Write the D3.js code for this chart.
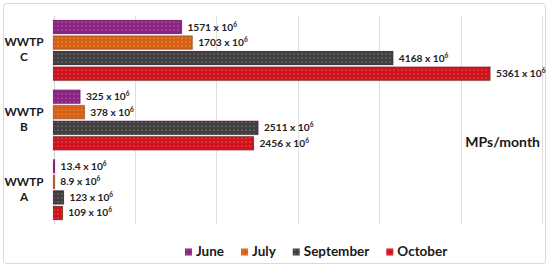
<!DOCTYPE html>
<html>
<head>
<meta charset="utf-8">
<script src="https://cdn.jsdelivr.net/npm/d3@7"></script>
<style>
  body { margin: 0; background: #fff; }
  svg { display: block; font-family: Lato, 'Open Sans', sans-serif; font-weight: bold; }
</style>
</head>
<body>
<div id="graph"></div>
<script>
var sites = ['WWTP C', 'WWTP B', 'WWTP A']
var months = ['June', 'July', 'September', 'October']
var colors = ['#8c2282', '#d9600f', '#3f3f3f', '#d2121b']
var edgeColors = ['#6e1866', '#8f5a1c', '#2a2a2a', '#6a2a10']

var june = [1571, 325, 13.4]
var july = [1703, 378, 8.9]
var september = [4168, 2511, 123]
var october = [5361, 2456, 109]
var labelJune = ['1571', '325', '13.4']
var labelJuly = ['1703', '378', '8.9']
var labelSeptember = ['4168', '2511', '123']
var labelOctober = ['5361', '2456', '109']
var xTicks = [0, 1000, 2000, 3000, 4000, 5000, 6000]
var unitLabel = 'MPs/month'

var series = [june, july, september, october]
var labels = [labelJune, labelJuly, labelSeptember, labelOctober]

var data = []
sites.forEach(function(site, i){
  months.forEach(function(m, j){
    data.push({site: site, month: m, j: j, value: series[j][i], label: labels[j][i]})
  })
})

var width = 550, height = 270
var svg = d3.select('#graph').append('svg').attr('width', width).attr('height', height)

var defs = svg.append('defs')
colors.forEach(function(c, j){
  var p = defs.append('pattern')
    .attr('id', 'dots' + j)
    .attr('patternUnits', 'userSpaceOnUse')
    .attr('width', 4).attr('height', 4)
  p.append('rect').attr('width', 4).attr('height', 4).attr('fill', c)
  p.append('circle').attr('cx', 2).attr('cy', 2).attr('r', 0.6).attr('fill', '#fff').attr('opacity', 0.6)
})

// outer frame
svg.append('rect')
  .attr('x', 3.5).attr('y', 3.5).attr('width', 542).attr('height', 260)
  .attr('rx', 3)
  .attr('fill', 'none').attr('stroke', '#d9d9d9')

var x = d3.scaleLinear().domain([0, 6000]).range([53.5, 542])
var y = d3.scaleBand().domain(sites).range([15.5, 224.5])
var yInner = d3.scaleBand().domain(d3.range(months.length)).range([0, y.bandwidth()])
  .paddingInner(0.16).paddingOuter(0.32)

// gridlines
svg.append('g').selectAll('line').data(xTicks).join('line')
  .attr('x1', d => Math.round(x(d)) + 0.5).attr('x2', d => Math.round(x(d)) + 0.5)
  .attr('y1', y.range()[0]).attr('y2', y.range()[1])
  .attr('stroke', d => d === 0 ? '#cfcfcf' : '#dedede')

// bars
var barG = svg.append('g')
barG.selectAll('rect.glow').data(data).join('rect')
  .attr('class', 'glow')
  .attr('x', x(0) - 1)
  .attr('y', d => y(d.site) + yInner(d.j) - 1)
  .attr('width', d => Math.max(x(d.value) - x(0), 1) + 2)
  .attr('height', yInner.bandwidth() + 2)
  .attr('fill', '#f6c6ec')
  .attr('opacity', 0.7)

barG.selectAll('rect.bar').data(data).join('rect')
  .attr('class', 'bar')
  .attr('x', x(0))
  .attr('y', d => y(d.site) + yInner(d.j))
  .attr('width', d => Math.max(x(d.value) - x(0), 1))
  .attr('height', yInner.bandwidth())
  .attr('fill', d => 'url(#dots' + d.j + ')')
  .attr('stroke', d => edgeColors[d.j])
  .attr('stroke-width', 0.8)

// value labels
var vl = svg.append('g').selectAll('text').data(data).join('text')
  .attr('x', d => x(d.value) + 6)
  .attr('y', d => y(d.site) + yInner(d.j) + yInner.bandwidth() / 2 + 3.5)
  .attr('font-size', 10.2)
  .attr('fill', '#222')
vl.append('tspan').text(d => d.label + ' x 10')
vl.append('tspan').text('6').attr('font-size', 6.5).attr('dy', -4)

// category labels
var cat = svg.append('g').selectAll('text').data(sites).join('text')
  .attr('text-anchor', 'middle')
  .attr('font-size', 11.8)
  .attr('fill', '#1a1a1a')
cat.append('tspan')
  .attr('x', 24).attr('y', d => y(d) + y.bandwidth() / 2 - 4)
  .text(d => d.split(' ')[0])
cat.append('tspan')
  .attr('x', 24).attr('y', d => y(d) + y.bandwidth() / 2 + 11)
  .text(d => d.split(' ')[1])

// unit label
svg.append('text')
  .attr('x', 540).attr('y', 147)
  .attr('text-anchor', 'end')
  .attr('font-size', 14)
  .attr('fill', '#1a1a1a')
  .text(unitLabel)

// legend
var legend = svg.append('g').attr('transform', 'translate(185,256)')
var lx = 0
months.forEach(function(m, j){
  var g = legend.append('g').attr('transform', 'translate(' + lx + ',0)')
  g.append('rect').attr('x', 0).attr('y', -7.5).attr('width', 7).attr('height', 7)
    .attr('fill', 'url(#dots' + j + ')')
  var t = g.append('text').attr('x', 11).attr('y', 0)
    .attr('font-size', 13.5).attr('fill', '#1a1a1a').text(m)
  lx += 11 + t.node().getComputedTextLength() + 17
})
</script>
</body>
</html>
